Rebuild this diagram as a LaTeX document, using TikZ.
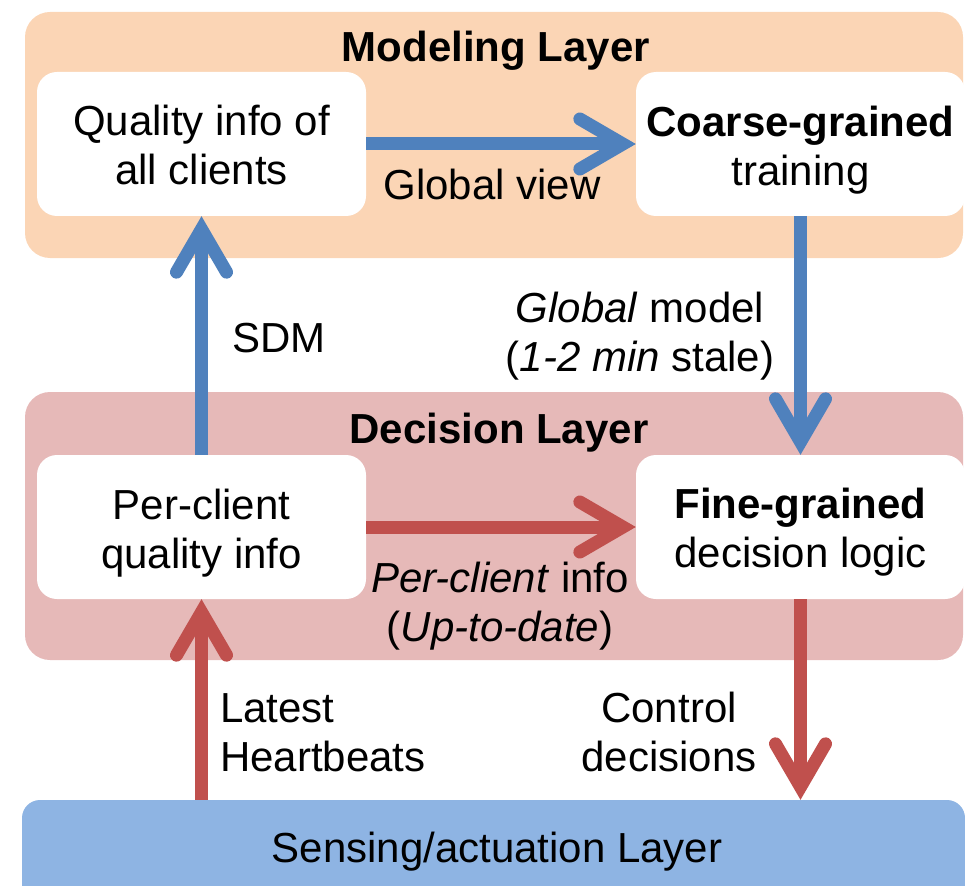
\documentclass[tikz,border=0pt]{standalone}
\usepackage{fontspec}
\setmainfont{Liberation Sans}
\usetikzlibrary{arrows.meta}
\definecolor{peach}{HTML}{FBD5B5}
\definecolor{pinklayer}{HTML}{E6B9B8}
\definecolor{senseblue}{HTML}{8EB4E3}
\definecolor{arrblue}{HTML}{4F81BD}
\definecolor{arrred}{HTML}{C0504D}
\tikzset{
  layerbox/.style={rounded corners=25pt},
  whitebox/.style={fill=white, rounded corners=20pt, minimum width=329pt, minimum height=144pt, inner sep=0pt},
  txt/.style={anchor=base, inner sep=0pt, font=\fontsize{42}{49}\selectfont},
  bigarrow/.style={line width=13pt, -{Straight Barb[length=43pt,width=50pt,line cap=round,line join=miter]}},
}
\newcommand{\twolinesc}[2]{\begin{tabular}[t]{@{}c@{}}#1\\#2\end{tabular}}
\newcommand{\twolinesl}[2]{\begin{tabular}[t]{@{}l@{}}#1\\#2\end{tabular}}
\begin{document}
\begin{tikzpicture}[x=1pt,y=-1pt]
\useasboundingbox (0,0) rectangle (965,885);
% layers
\fill[peach, layerbox] (25,12) rectangle (963,258);
\fill[pinklayer, layerbox] (25,392) rectangle (963,660);
\node[fill=senseblue, rounded corners=18pt, minimum width=943pt, minimum height=110pt, inner sep=0pt] (s) at (493.5,855) {};
% titles
\node[txt, font=\fontsize{42}{49}\selectfont\bfseries] (tm) at (496,62) {Modeling Layer};
\node[txt, font=\fontsize{42}{49}\selectfont\bfseries] (td) at (499,443) {Decision Layer};
\node[txt] (ts) at (497,862) {Sensing/actuation Layer};
% boxes
\node[whitebox] (q) at (201.5,144) {};
\node[whitebox] (c) at (800.5,144) {};
\node[whitebox] (p) at (201.5,527) {};
\node[whitebox] (f) at (800.5,527) {};
\node[txt] (qt) at (201.5,136) {\twolinesc{Quality info of}{all clients}};
\node[txt] (ct) at (800.5,137) {\twolinesc{\textbf{Coarse-grained}}{training}};
\node[txt] (pt) at (201.5,519) {\twolinesc{Per-client}{quality info}};
\node[txt] (ft) at (800.5,518) {\twolinesc{\textbf{Fine-grained}}{decision logic}};
% arrows
\draw[bigarrow, arrblue] (q.east) -- (c.west);
\draw[bigarrow, arrblue] (c.south) -- (f.north);
\draw[bigarrow, arrblue] (p.north) -- (q.south);
\draw[bigarrow, arrred] (p.east) -- (f.west);
\draw[bigarrow, arrred] (p.south |- s.north) -- (p.south);
\draw[bigarrow, arrred] (f.south) -- (f.south |- s.north);
% labels
\node[txt] (lg) at (492,200) {Global view};
\node[txt] (lm) at (640,322) {\twolinesc{\textit{Global} model}{(\textit{1-2 min} stale)}};
\node[txt, anchor=base west] (lsdm) at (232,352) {SDM};
\node[txt] (lpc) at (500,592) {\twolinesc{\textit{Per-client} info}{(\textit{Up-to-date})}};
\node[txt, anchor=base west] (lhb) at (220,722) {\twolinesl{Latest}{Heartbeats}};
\node[txt] (lcd) at (669,722) {\twolinesc{Control}{decisions}};
\end{tikzpicture}
\end{document}
